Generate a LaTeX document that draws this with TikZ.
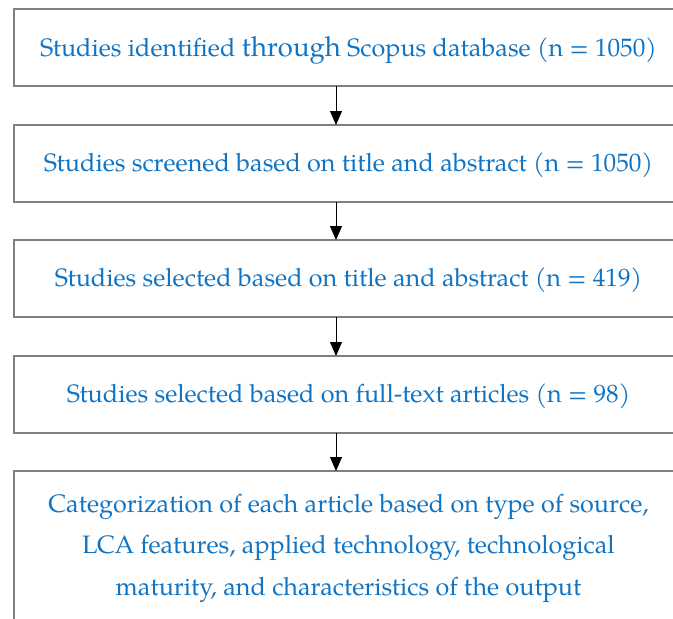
\documentclass[tikz,border=0pt]{standalone}
\usepackage{fontspec}
\setmainfont{TeX Gyre Pagella}
\usetikzlibrary{arrows.meta}
\definecolor{txtblue}{RGB}{16,116,196}
\definecolor{boxgray}{RGB}{128,128,128}
\tikzset{
  flowbox/.style={draw=boxgray, line width=1.9pt, fill=none},
  flowtext/.style={text=txtblue, font=\fontsize{25.2}{41.5}\selectfont, align=center, inner sep=0pt},
  flowarrow/.style={line width=0.8pt, -{Triangle[width=12pt,length=14pt]}}
}
\begin{document}
\begin{tikzpicture}[x=1pt,y=-1pt]
\useasboundingbox (0,0) rectangle (673,619);
\begin{scope}
\clip (0,0) rectangle (673,619);
\draw[flowbox] (14,9) rectangle (684,86);
\draw[flowbox] (14,125) rectangle (684,202);
\draw[flowbox] (14,240) rectangle (684,317);
\draw[flowbox] (14,356) rectangle (684,433);
\draw[flowbox] (14,471) rectangle (684,626);
\end{scope}
\node[flowtext] (t1) at (348.5,50) {Studies identified {\fontsize{27.5}{41}\selectfont through} Scopus database (n = 1050)};
\node[flowtext] (t2) at (348.5,165) {Studies screened based on title and abstract (n = 1050)};
\node[flowtext] (t3) at (348.5,280) {Studies selected based on title and abstract (n = 419)};
\node[flowtext] (t4) at (348.5,396) {Studies selected based on full-text articles (n = 98)};
\node[flowtext] (t5) at (348.5,548) {Categorization of each article based on type of source,\\LCA features, applied technology, technological\\maturity, and characteristics of the output};
\coordinate (b1) at (336,86);
\coordinate (a2) at (336,125);
\coordinate (b2) at (336,202);
\coordinate (a3) at (336,240);
\coordinate (b3) at (336,317);
\coordinate (a4) at (336,356);
\coordinate (b4) at (336,433);
\coordinate (a5) at (336,471);
\draw[flowarrow] (b1) -- (a2);
\draw[flowarrow] (b2) -- (a3);
\draw[flowarrow] (b3) -- (a4);
\draw[flowarrow] (b4) -- (a5);
\end{tikzpicture}
\end{document}
